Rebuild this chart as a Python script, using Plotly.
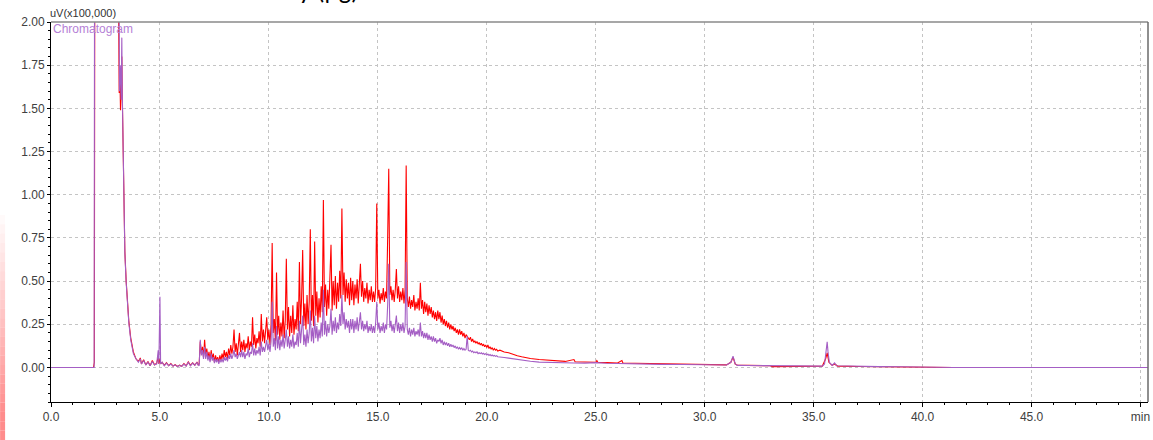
import plotly.graph_objects as go

# ---------------- data ----------------
# leading segment (solvent front, decay, early baseline)  -- time (min), signal (x100,000 uV)
red_pre_t = [0.0, 1.95, 1.99, 2.01, 3.08, 3.11, 3.13, 3.16, 3.19, 3.22, 3.25, 3.27, 3.31, 3.34, 3.39,
             3.45, 3.50, 3.57, 3.66, 3.78, 3.90, 4.01, 4.10, 4.15, 4.25, 4.35, 4.45, 4.55, 4.65, 4.75,
             4.85, 4.92, 4.95, 5.00, 5.03, 5.10, 5.20, 5.30, 5.40, 5.50, 5.60, 5.70, 5.80, 5.90, 6.00,
             6.10, 6.20, 6.30, 6.40, 6.50, 6.60, 6.70, 6.75]
red_pre_v = [0.0, 0.0, 0.03, 2.5, 2.5, 1.81, 1.59, 1.70, 1.49, 1.65, 1.80, 1.58, 1.18, 0.95, 0.67,
             0.50, 0.38, 0.27, 0.17, 0.09, 0.05, 0.035, 0.055, 0.02, 0.045, 0.015, 0.035, 0.01, 0.04, 0.015,
             0.025, 0.06, 0.02, 0.05, 0.02, 0.03, 0.012, 0.028, 0.01, 0.022, 0.008, 0.016, 0.006, 0.013, 0.007,
             0.022, 0.009, 0.032, 0.012, 0.027, 0.013, 0.032, 0.016]

purple_pre_t = [0.0, 1.98, 2.00, 3.12, 3.14, 3.18, 3.22, 3.25, 3.27, 3.31, 3.34, 3.39, 3.45, 3.50,
                3.57, 3.66, 3.78, 3.90, 4.01, 4.10, 4.15, 4.25, 4.35, 4.45, 4.55, 4.65, 4.75, 4.85,
                4.92, 4.95, 5.00, 5.03, 5.10, 5.20, 5.30, 5.40, 5.50, 5.60, 5.70, 5.80, 5.90, 6.00,
                6.10, 6.20, 6.30, 6.40, 6.50, 6.60, 6.70, 6.75]
purple_pre_v = [0.0, 0.0, 2.5, 2.5, 1.60, 1.75, 1.55, 1.91, 1.60, 1.16, 0.93, 0.66, 0.49, 0.37,
                0.26, 0.16, 0.08, 0.05, 0.03, 0.05, 0.02, 0.04, 0.015, 0.03, 0.01, 0.035, 0.015, 0.02,
                0.10, 0.02, 0.41, 0.02, 0.03, 0.01, 0.025, 0.01, 0.02, 0.008, 0.015, 0.005, 0.012, 0.006,
                0.02, 0.008, 0.03, 0.01, 0.025, 0.012, 0.03, 0.015]

# dense segment: 6.80 .. 20.50 min, one value every 0.05 min
dense_start = 6.80
dense_step = 0.05
red_dense = [
    0.02, 0.15, 0.08, 0.12, 0.06, 0.16, 0.07, 0.11, 0.05, 0.09, 0.04, 0.10, 0.05, 0.08, 0.03, 0.07, 0.04, 0.06, 0.03, 0.07,
    0.04, 0.08, 0.05, 0.10, 0.06, 0.09, 0.05, 0.11, 0.07, 0.13, 0.08, 0.12, 0.22, 0.09, 0.14, 0.07, 0.12, 0.20, 0.09, 0.15,
    0.10, 0.16, 0.09, 0.14, 0.11, 0.18, 0.10, 0.15, 0.12, 0.29, 0.13, 0.19, 0.11, 0.17, 0.14, 0.21, 0.12, 0.31, 0.15, 0.22,
    0.14, 0.20, 0.29, 0.16, 0.22, 0.13, 0.25, 0.72, 0.20, 0.28, 0.15, 0.55, 0.19, 0.30, 0.16, 0.26, 0.18, 0.33, 0.17, 0.27,
    0.63, 0.22, 0.35, 0.18, 0.30, 0.20, 0.36, 0.19, 0.28, 0.22, 0.38, 0.21, 0.61, 0.25, 0.40, 0.68, 0.24, 0.37, 0.22, 0.42,
    0.25, 0.38, 0.80, 0.27, 0.42, 0.24, 0.73, 0.30, 0.44, 0.26, 0.40, 0.29, 0.47, 0.32, 0.97, 0.35, 0.48, 0.30, 0.45, 0.34,
    0.48, 0.71, 0.33, 0.50, 0.36, 0.53, 0.34, 0.49, 0.38, 0.56, 0.40, 0.92, 0.42, 0.55, 0.38, 0.51, 0.40, 0.49, 0.36, 0.52,
    0.39, 0.50, 0.36, 0.48, 0.40, 0.51, 0.37, 0.47, 0.60, 0.41, 0.50, 0.38, 0.46, 0.40, 0.49, 0.37, 0.45, 0.39, 0.47, 0.38,
    0.44, 0.38, 0.46, 0.95, 0.40, 0.45, 0.37, 0.43, 0.39, 0.46, 0.38, 0.44, 0.40, 0.75, 1.15, 0.42, 0.47, 0.39, 0.45, 0.38,
    0.45, 0.57, 0.40, 0.47, 0.38, 0.44, 0.39, 0.46, 0.37, 0.45, 1.17, 0.40, 0.35, 0.41, 0.34, 0.39, 0.35, 0.42, 0.33, 0.38,
    0.34, 0.40, 0.33, 0.49, 0.34, 0.39, 0.31, 0.38, 0.32, 0.37, 0.30, 0.36, 0.31, 0.35, 0.29, 0.33, 0.28, 0.32, 0.27, 0.33,
    0.28, 0.32, 0.26, 0.30, 0.25, 0.28, 0.24, 0.27, 0.23, 0.26, 0.22, 0.25, 0.22, 0.24, 0.21, 0.23, 0.20, 0.22, 0.19, 0.22,
    0.19, 0.21, 0.18, 0.20, 0.17, 0.19, 0.18, 0.17, 0.16, 0.175, 0.15, 0.165, 0.145, 0.155, 0.14, 0.15, 0.135, 0.145, 0.13, 0.14,
    0.125, 0.135, 0.12, 0.13, 0.115, 0.13, 0.11, 0.12, 0.105, 0.115, 0.10, 0.11, 0.10, 0.105, 0.095,
]
purple_dense = [
    0.01, 0.16, 0.07, 0.10, 0.05, 0.12, 0.05, 0.09, 0.04, 0.07, 0.03, 0.08, 0.04, 0.06, 0.025, 0.05, 0.03, 0.05, 0.02, 0.05,
    0.03, 0.05, 0.03, 0.06, 0.04, 0.06, 0.035, 0.07, 0.05, 0.08, 0.05, 0.07, 0.10, 0.06, 0.08, 0.05, 0.07, 0.09, 0.06, 0.10,
    0.06, 0.09, 0.05, 0.08, 0.07, 0.11, 0.06, 0.09, 0.08, 0.14, 0.07, 0.11, 0.07, 0.10, 0.08, 0.12, 0.07, 0.15, 0.09, 0.12,
    0.09, 0.13, 0.16, 0.10, 0.14, 0.09, 0.15, 0.38, 0.12, 0.17, 0.10, 0.24, 0.11, 0.18, 0.10, 0.16, 0.12, 0.19, 0.11, 0.16,
    0.22, 0.12, 0.18, 0.11, 0.16, 0.12, 0.19, 0.11, 0.15, 0.13, 0.20, 0.12, 0.27, 0.14, 0.21, 0.30, 0.13, 0.19, 0.12, 0.22,
    0.14, 0.20, 0.33, 0.15, 0.23, 0.14, 0.30, 0.17, 0.24, 0.15, 0.22, 0.17, 0.26, 0.18, 0.45, 0.19, 0.27, 0.18, 0.25, 0.20,
    0.24, 0.34, 0.19, 0.27, 0.21, 0.29, 0.20, 0.26, 0.22, 0.31, 0.24, 0.42, 0.25, 0.32, 0.22, 0.28, 0.23, 0.27, 0.20, 0.28,
    0.22, 0.28, 0.20, 0.27, 0.22, 0.29, 0.21, 0.26, 0.32, 0.22, 0.27, 0.21, 0.25, 0.22, 0.27, 0.20, 0.24, 0.21, 0.25, 0.20,
    0.24, 0.20, 0.26, 0.38, 0.22, 0.26, 0.20, 0.24, 0.21, 0.26, 0.20, 0.25, 0.22, 0.36, 0.60, 0.23, 0.27, 0.21, 0.25, 0.20,
    0.24, 0.30, 0.21, 0.26, 0.20, 0.25, 0.21, 0.26, 0.20, 0.24, 0.61, 0.22, 0.19, 0.23, 0.18, 0.22, 0.19, 0.23, 0.18, 0.21,
    0.19, 0.22, 0.18, 0.26, 0.18, 0.21, 0.17, 0.20, 0.17, 0.20, 0.16, 0.19, 0.16, 0.18, 0.15, 0.18, 0.15, 0.17, 0.14, 0.16,
    0.15, 0.17, 0.14, 0.16, 0.13, 0.15, 0.13, 0.145, 0.125, 0.14, 0.12, 0.135, 0.12, 0.13, 0.115, 0.125, 0.11, 0.12, 0.105, 0.115,
    0.105, 0.115, 0.10, 0.11, 0.10, 0.105, 0.18, 0.10, 0.095, 0.10, 0.09, 0.095, 0.085, 0.09, 0.085, 0.09, 0.08, 0.085, 0.08, 0.085,
    0.078, 0.082, 0.075, 0.08, 0.072, 0.078, 0.07, 0.075, 0.068, 0.072, 0.066, 0.07, 0.064, 0.068, 0.062,
]

# trailing segment (tail and late peaks)
red_post_t = [20.6, 20.8, 21.0, 21.2, 21.4, 21.6, 21.8, 22.0, 22.4, 22.8, 23.2, 23.6, 24.0, 24.05, 24.5,
              25.0, 25.05, 25.1, 25.5, 26.0, 26.2, 26.25, 26.8, 27.5, 28.0, 28.5, 29.0, 29.5, 30.0, 30.5,
              31.0, 31.2, 31.3, 31.4, 31.5, 32.0, 33.0, 33.1, 33.7, 33.8, 34.5, 35.4, 35.55, 35.62, 35.7,
              35.85, 35.96, 36.1, 37.0, 38.0, 39.0, 40.0, 40.6, 41.2, 41.4]
red_post_v = [0.10, 0.09, 0.085, 0.075, 0.068, 0.062, 0.056, 0.052, 0.046, 0.041, 0.037, 0.035, 0.046, 0.033, 0.032,
              0.030, 0.040, 0.029, 0.028, 0.026, 0.040, 0.025, 0.024, 0.022, 0.020, 0.019, 0.018, 0.017, 0.016, 0.016,
              0.015, 0.030, 0.060, 0.020, 0.013, 0.012, 0.010, 0.005, 0.005, 0.009, 0.008, 0.008, 0.050, 0.085, 0.030,
              0.012, 0.020, 0.008, 0.006, 0.005, 0.004, 0.003, 0.0, 0.0, 0.0]

purple_post_t = [20.6, 20.8, 21.0, 21.3, 21.6, 22.0, 22.4, 22.8, 23.2, 24.0, 24.5, 25.0, 25.5, 26.0, 27.0,
                 28.0, 29.0, 30.0, 31.0, 31.2, 31.3, 31.4, 31.5, 32.0, 33.0, 34.0, 35.4, 35.5, 35.58, 35.62,
                 35.66, 35.72, 35.85, 35.96, 36.05, 37.0, 38.0, 39.0, 40.0, 41.0, 41.4, 50.4]
purple_post_v = [0.062, 0.058, 0.054, 0.048, 0.043, 0.036, 0.031, 0.029, 0.027, 0.026, 0.025, 0.028, 0.024, 0.022, 0.020,
                 0.018, 0.017, 0.016, 0.014, 0.030, 0.066, 0.020, 0.012, 0.011, 0.010, 0.009, 0.008, 0.020, 0.100, 0.148,
                 0.090, 0.030, 0.012, 0.027, 0.010, 0.006, 0.005, 0.004, 0.003, 0.003, 0.0, 0.0]

x_tick_vals = [0, 5, 10, 15, 20, 25, 30, 35, 40, 45, 50]
x_tick_text = ["0.0", "5.0", "10.0", "15.0", "20.0", "25.0", "30.0", "35.0", "40.0", "45.0", "min"]
y_tick_vals = [0.0, 0.25, 0.5, 0.75, 1.0, 1.25, 1.5, 1.75, 2.0]
y_tick_text = ["0.00", "0.25", "0.50", "0.75", "1.00", "1.25", "1.50", "1.75", "2.00"]

# ---------------- assemble ----------------
dense_t = [round(dense_start + dense_step * i, 2) for i in range(len(red_dense))]
red_t = red_pre_t + dense_t + red_post_t
red_v = red_pre_v + red_dense + red_post_v
pur_t = purple_pre_t + dense_t + purple_post_t
pur_v = purple_pre_v + purple_dense + purple_post_v

RED = "#ff0000"
PURPLE = "#a45ec4"
FONT = "Liberation Sans, Arial, sans-serif"

fig = go.Figure()
fig.add_trace(go.Scatter(x=red_t, y=red_v, mode="lines", line=dict(color=RED, width=1.1),
                         hoverinfo="skip", showlegend=False))
fig.add_trace(go.Scatter(x=pur_t, y=pur_v, mode="lines", line=dict(color=PURPLE, width=1.1),
                         hoverinfo="skip", showlegend=False))

L, R, T, B = 51, 3, 22, 38
W, H = 1153, 440
pw, ph = W - L - R, H - T - B

fig.update_layout(
    width=W, height=H,
    margin=dict(l=L, r=R, t=T, b=B, pad=0),
    paper_bgcolor="white", plot_bgcolor="white",
    font=dict(family=FONT, size=12, color="#404040"),
    showlegend=False,
    xaxis=dict(
        range=[0, pw / 21.83], tickvals=x_tick_vals, ticktext=x_tick_text,
        showgrid=True, gridcolor="#c4c4c4", griddash="3px,3px", gridwidth=1,
        zeroline=False, showline=True, linecolor="black", linewidth=1,
        ticks="outside", ticklen=4, tickcolor="black", tickwidth=1,
        minor=dict(dtick=1, ticks="outside", ticklen=2, tickcolor="black", showgrid=False),
        tickfont=dict(family=FONT, size=12, color="#404040"),
    ),
    yaxis=dict(
        range=[-0.2, 2.0005], tickvals=y_tick_vals, ticktext=y_tick_text,
        showgrid=True, gridcolor="#c4c4c4", griddash="3px,3px", gridwidth=1,
        zeroline=False, showline=True, linecolor="black", linewidth=1,
        ticks="outside", ticklen=3, tickcolor="black", tickwidth=1,
        minor=dict(dtick=0.05, ticks="outside", ticklen=2, tickcolor="black", showgrid=False),
        tickfont=dict(family=FONT, size=12, color="#404040"),
    ),
)

# top / right frame
fig.add_shape(type="line", xref="paper", yref="paper", x0=0, x1=1, y0=1, y1=1,
              line=dict(color="#8a8a8a", width=1.5))
fig.add_shape(type="line", xref="paper", yref="paper", x0=1, x1=1, y0=0, y1=1,
              line=dict(color="#6a6a6a", width=1.5))

# pink gradient strip at left edge (crop artefact)
n_strip = 24
y_top_px, y_bot_px = 215, 440
for i in range(n_strip):
    ya = y_top_px + (y_bot_px - y_top_px) * i / n_strip
    yb = y_top_px + (y_bot_px - y_top_px) * (i + 1) / n_strip
    op = min(1.0, (i + 1) / n_strip * 1.1)
    fig.add_shape(type="rect", xref="paper", yref="paper",
                  x0=(0 - L) / pw, x1=(5 - L) / pw,
                  y0=(H - B - yb) / ph, y1=(H - B - ya) / ph,
                  fillcolor=f"rgba(255,120,120,{op*0.85:.3f})", line=dict(width=0), layer="above")

# annotations
fig.add_annotation(xref="paper", yref="paper", x=(48 - L) / pw, y=(H - B - 13) / ph,
                   xanchor="left", yanchor="middle", showarrow=False,
                   text="uV(x100,000)", font=dict(family=FONT, size=11, color="#333333"))
fig.add_annotation(xref="paper", yref="paper", x=(51 - L) / pw, y=(H - B - 29) / ph,
                   xanchor="left", yanchor="middle", showarrow=False,
                   text="Chromatogram", font=dict(family=FONT, size=12, color="#b57fd6"))
fig.add_annotation(xref="paper", yref="paper", x=(297 - L) / pw, y=(H - B + 10) / ph,
                   xanchor="left", yanchor="middle", showarrow=False,
                   text="y (µg)", font=dict(family="Carlito, Liberation Sans, sans-serif", size=26, color="black"))

fig.write_html("out.html", config={"displayModeBar": False},
               post_script="document.body.style.margin='0';document.body.style.overflow='hidden';")
